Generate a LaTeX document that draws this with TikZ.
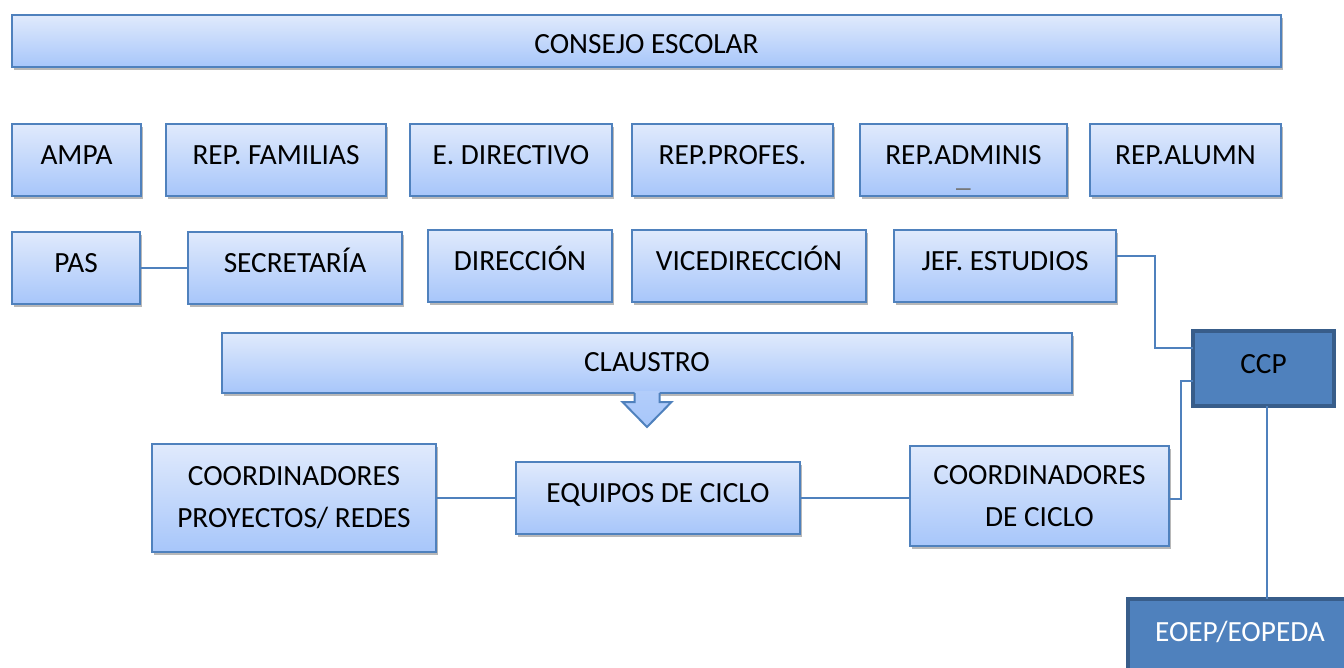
\documentclass[tikz,border=0pt]{standalone}
\usepackage{fontspec}
\setmainfont{Carlito}
\usetikzlibrary{shadows,calc}
\definecolor{bord}{HTML}{4F81BD}
\definecolor{topc}{HTML}{E0EAFC}
\definecolor{botc}{HTML}{A7C6FA}
\definecolor{darkb}{HTML}{385D8A}
\definecolor{midb}{HTML}{4F81BD}
\begin{document}
\begin{tikzpicture}[x=1pt,y=-1pt,
  box/.style={draw=bord, line width=2pt, top color=topc, bottom color=botc,
    drop shadow={shadow xshift=1.5pt, shadow yshift=-3pt, fill=black, opacity=0.28},
    font=\fontsize{29.3}{42}\selectfont, inner sep=0pt, outer sep=0pt,
    text height=19pt, text depth=10pt},
  twobox/.style={draw=bord, line width=2pt, top color=topc, bottom color=botc,
    drop shadow={shadow xshift=1.5pt, shadow yshift=-3pt, fill=black, opacity=0.28},
    font=\fontsize{29.3}{42}\selectfont, inner sep=0pt, outer sep=0pt, align=center},
  darkbox/.style={draw=darkb, line width=4pt, fill=midb,
    font=\fontsize{29.3}{42}\selectfont, inner sep=0pt, outer sep=0pt,
    text height=19pt, text depth=10pt},
  conn/.style={draw=bord, line width=1.5pt}]
\clip (0,0) rectangle (1344,668);
% row 1
\node[box, minimum width=1269, minimum height=52, text height=25pt, text depth=0pt] (consejo) at (646.5,41) {CONSEJO ESCOLAR};
% row 2
\node[box, minimum width=129, minimum height=72] (ampa) at (76.5,160) {AMPA};
\node[box, minimum width=220, minimum height=72] (familias) at (276,160) {REP. FAMILIAS};
\node[box, minimum width=202, minimum height=72] (directivo) at (511,160) {E. DIRECTIVO};
\node[box, minimum width=201, minimum height=72] (profes) at (732.5,160) {REP.PROFES.};
\node[box, minimum width=207, minimum height=72] (adminis) at (963.5,160) {\ooalign{REP.ADMINIS\cr\hidewidth\smash{\raisebox{-22pt}{\color{black!55}\_}}\hidewidth\cr}};
\node[box, minimum width=191, minimum height=72] (alumn) at (1185.5,160) {REP.ALUMN};
% row 3
\node[box, minimum width=128, minimum height=72] (pas) at (76,268) {PAS};
\node[box, minimum width=214, minimum height=72] (secretaria) at (295,268) {SECRETARÍA};
\node[box, minimum width=184, minimum height=72] (direccion) at (520,266) {DIRECCIÓN};
\node[box, minimum width=234, minimum height=72] (vicedireccion) at (749,266) {VICEDIRECCIÓN};
\node[box, minimum width=222, minimum height=72] (jef) at (1005,266) {JEF. ESTUDIOS};
% claustro
\node[box, minimum width=850, minimum height=60, text depth=2pt] (claustro) at (647,363) {CLAUSTRO};
\shade[top color=topc!35!botc, bottom color=botc]
  (claustro.center) +(-12.5,28) -- +(-12.5,39) -- +(-24.5,39) -- +(0,64) -- +(24.5,39) -- +(12.5,39) -- +(12.5,28) -- cycle;
\draw[draw=bord, line width=2pt, line join=miter]
  (claustro.center) +(-12.5,30) -- +(-12.5,39) -- +(-24.5,39) -- +(0,64) -- +(24.5,39) -- +(12.5,39) -- +(12.5,30);
% row 4
\node[twobox, minimum width=284, minimum height=108] (cpr) at (294,498) {COORDINADORES\\PROYECTOS/ REDES};
\node[box, minimum width=284, minimum height=72] (equipos) at (658,498) {EQUIPOS DE CICLO};
\node[twobox, minimum width=259, minimum height=100] (cdc) at (1039.5,496) {COORDINADORES\\DE CICLO};
% right side
\node[darkbox, minimum width=141, minimum height=75] (ccp) at (1263.5,368.5) {CCP};
\node[darkbox, minimum width=224, minimum height=76, text=white] (eoep) at (1240,637) {EOEP/EOPEDA};
% connectors
\draw[conn] (pas.east) -- (secretaria.west);
\draw[conn] ($(jef.east)+(0,-10)$) -- ++(39,0) |- ($(ccp.west)+(0,-20.5)$);
\draw[conn] ($(ccp.west)+(0,12.5)$) -- ++(-12,0) |- ($(cdc.east)+(0,3)$);
\draw[conn] ($(ccp.south)+(3.5,0)$) -- ($(ccp.south |- eoep.north)+(3.5,0)$);
\draw[conn] (cpr.east) -- (equipos.west);
\draw[conn] (equipos.east) -- (equipos.east -| cdc.west);
\end{tikzpicture}
\end{document}
